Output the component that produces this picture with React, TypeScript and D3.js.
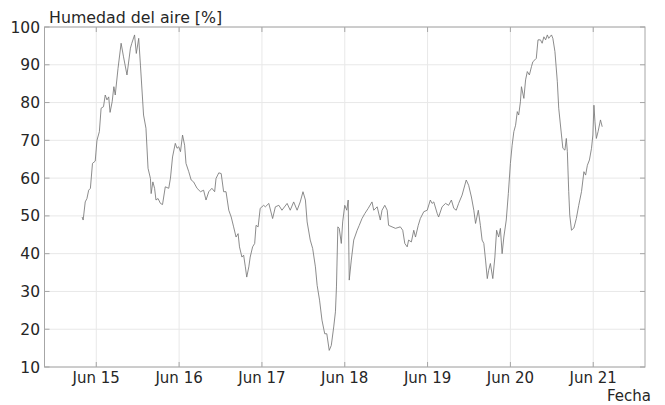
import React from "react";
import * as d3 from "d3";

// hours since Jun 14 00:00
const hours: number[] = [
  19.9, 20.2, 20.8, 21.3, 21.8, 22.3, 22.9, 23.7, 24.2, 24.9, 25.4, 26.1, 26.6, 27.1, 27.6, 28.0, 28.6, 29.1, 29.5, 30.3,
  31.2, 31.9, 32.9, 33.9, 34.3, 35.1, 35.6, 36.3, 36.8, 37.7, 38.4, 39.0, 39.7, 39.9, 40.4, 40.9, 41.3, 41.9, 42.6, 43.2,
  44.0, 45.0, 45.5, 46.1, 46.9, 47.4, 47.9, 48.4, 49.0, 49.6, 50.0, 50.8, 51.5, 52.2, 53.2, 54.2, 55.1, 55.8, 56.6, 57.5,
  58.3, 58.7, 59.5, 60.2, 60.9, 61.6, 62.4, 63.1, 63.8, 64.5, 65.1, 65.5, 66.2, 66.7, 67.2, 67.6, 68.2, 68.6, 69.3, 69.9,
  70.3, 70.9, 71.5, 72.5, 73.0, 74.0, 75.1, 75.9, 76.9, 77.8, 79.3, 80.2, 81.2, 82.2, 83.1, 83.9, 84.6, 85.1, 86.0, 86.7,
  87.5, 88.0, 88.7, 89.4, 90.2, 90.8, 91.5, 92.1, 92.8, 93.3, 93.6, 94.0, 94.4, 95.0, 95.4, 96.0, 96.6, 97.0, 97.3, 97.9,
  98.6, 99.6, 100.2, 101.0, 101.8, 102.8, 103.9, 104.4, 105.4, 106.3, 106.8, 107.6, 108.3, 108.7, 109.7, 110.7, 112.1, 112.8, 113.4, 114.1,
  114.5, 115.3, 116.0, 116.5, 117.3, 117.9, 118.9, 119.9, 120.8, 121.3, 121.8, 122.8, 123.2, 124.2, 125.2, 126.1, 126.9, 127.6, 128.3, 129.0,
  130.0, 131.2, 131.9, 132.7, 133.4, 133.9, 134.7, 135.3, 135.8, 136.3, 136.8, 137.3, 137.7, 138.2, 138.9, 139.5, 140.0, 140.6, 141.1, 141.6,
  142.1, 142.8, 143.4, 144.0, 144.5, 145.0, 145.5, 146.0, 146.4, 146.9, 147.2, 147.9, 148.4, 148.9, 149.5, 150.1, 150.5, 151.1, 151.5, 152.0,
  152.7, 153.2, 153.7, 154.2, 154.7, 155.1, 155.9, 156.3, 156.9, 157.6, 158.0, 158.8, 159.2, 159.8, 160.2, 160.5, 160.9, 161.2, 161.7, 162.4,
  163.1, 163.8, 164.6, 165.3, 165.8, 166.3, 166.9, 167.5, 167.9, 168.2, 168.5, 168.9, 169.4, 170.1, 170.6,
];

const humidity: number[] = [
  49.7, 48.9, 53.7, 54.6, 56.8, 57.3, 63.9, 64.5, 70.0, 72.3, 78.5, 78.9, 82.0, 80.7, 81.5, 77.4, 80.2, 84.2, 82.0, 89.0,
  95.7, 92.1, 87.3, 94.4, 95.7, 97.9, 93.0, 97.0, 89.9, 76.7, 73.2, 62.6, 59.9, 55.9, 59.0, 57.3, 54.2, 54.6, 53.3, 53.0,
  57.7, 57.3, 60.0, 65.6, 69.2, 67.9, 68.3, 67.0, 71.4, 68.7, 63.9, 61.7, 59.5, 59.0, 57.3, 56.4, 56.8, 54.2, 56.4, 57.3,
  56.4, 59.9, 61.4, 61.2, 56.4, 56.4, 51.5, 49.7, 47.1, 44.4, 45.3, 41.8, 39.1, 39.6, 36.5, 33.8, 36.5, 39.1, 41.8, 42.7,
  47.5, 47.1, 52.0, 52.8, 52.4, 53.3, 49.3, 52.4, 52.8, 51.5, 53.3, 51.5, 53.7, 51.5, 53.7, 56.4, 54.2, 48.4, 43.6, 41.4,
  36.5, 31.6, 27.7, 22.4, 18.8, 18.8, 14.4, 15.7, 20.6, 24.6, 31.2, 47.1, 46.7, 42.7, 48.4, 52.8, 51.5, 54.2, 33.0, 38.3,
  43.6, 46.2, 47.5, 49.3, 50.6, 52.0, 53.7, 51.5, 52.4, 48.9, 51.5, 52.8, 51.5, 47.5, 47.1, 46.7, 47.1, 46.2, 42.7, 41.8,
  43.6, 43.1, 46.2, 44.4, 47.5, 49.3, 51.1, 51.5, 54.2, 53.3, 53.7, 50.6, 49.7, 52.4, 53.3, 52.8, 54.2, 52.0, 51.5, 53.3,
  55.5, 59.5, 58.1, 55.0, 51.5, 48.0, 51.5, 47.5, 43.6, 42.7, 38.3, 33.4, 35.6, 37.4, 33.4, 39.1, 46.2, 44.4, 46.7, 40.0,
  44.4, 48.9, 55.9, 63.9, 68.7, 72.3, 74.0, 77.6, 76.7, 80.2, 84.2, 81.1, 86.0, 88.2, 87.3, 89.5, 90.8, 91.3, 91.7, 96.6,
  96.6, 95.7, 97.4, 96.6, 97.9, 97.0, 97.9, 97.0, 93.5, 85.5, 78.5, 71.4, 67.9, 67.4, 70.5, 67.0, 56.4, 50.2, 46.2, 46.8,
  49.3, 52.8, 56.4, 61.7, 60.8, 63.4, 64.8, 67.9, 71.4, 79.3, 74.9, 70.5, 72.3, 75.4, 73.6,
];

const yTicks: number[] = [10, 20, 30, 40, 50, 60, 70, 80, 90, 100];
const xTickDays: number[] = [15, 16, 17, 18, 19, 20, 21];

const W = 665;
const H = 405;
const left = 44.5;
const right = 645;
const top = 27;
const bottom = 367;

const base = new Date(2023, 5, 14, 0, 0, 0).getTime();
const toDate = (h: number) => new Date(base + h * 3600e3);

export default function App() {
  const x = d3.scaleTime().domain([toDate(9), toDate(183)]).range([left, right]);
  const y = d3.scaleLinear().domain([10, 100]).range([bottom, top]);
  const data = hours.map((h, i) => ({ t: toDate(h), v: humidity[i] }));
  const line = d3
    .line<{ t: Date; v: number }>()
    .x((d) => x(d.t))
    .y((d) => y(d.v));
  const xTicks = xTickDays.map((d) => new Date(2023, 5, d));
  const fmt = d3.timeFormat("%b %d");
  const font = "'DejaVu Sans', sans-serif";
  const axisColor = "#a6a6a6";
  const gridColor = "#e8e8e8";
  const textColor = "#262626";

  return (
    <svg
      width={W}
      height={H}
      style={{ position: "absolute", left: 0, top: 0, background: "#fff" }}
      fontFamily={font}
    >
      {yTicks.map((t) => (
        <line key={"gy" + t} x1={left} x2={right} y1={y(t)} y2={y(t)} stroke={gridColor} strokeWidth={1} />
      ))}
      {xTicks.map((t, i) => (
        <line key={"gx" + i} x1={x(t)} x2={x(t)} y1={top} y2={bottom} stroke={gridColor} strokeWidth={1} />
      ))}
      <path d={line(data) || ""} fill="none" stroke="#777777" strokeWidth={0.85} strokeLinejoin="round" />
      <rect x={left} y={top} width={right - left} height={bottom - top} fill="none" stroke={axisColor} strokeWidth={1} />
      {xTicks.map((t, i) => (
        <g key={"tx" + i}>
          <line x1={x(t)} x2={x(t)} y1={bottom} y2={bottom - 5} stroke={axisColor} />
          <line x1={x(t)} x2={x(t)} y1={top} y2={top + 5} stroke={axisColor} />
          <text x={x(t)} y={383} textAnchor="middle" fontSize={15} fill={textColor}>
            {fmt(t)}
          </text>
        </g>
      ))}
      {yTicks.map((t) => (
        <g key={"ty" + t}>
          <line x1={right} x2={right - 5} y1={y(t)} y2={y(t)} stroke={axisColor} />
          <line x1={left} x2={left + 5} y1={y(t)} y2={y(t)} stroke={axisColor} />
          <text x={40} y={y(t)} dy="0.36em" textAnchor="end" fontSize={15.5} fill={textColor}>
            {t}
          </text>
        </g>
      ))}
      <text x={49} y={23} fontSize={15.8} fill={textColor}>
        Humedad del aire [%]
      </text>
      <text x={651} y={401} textAnchor="end" fontSize={15} fill={textColor}>
        Fecha
      </text>
    </svg>
  );
}
